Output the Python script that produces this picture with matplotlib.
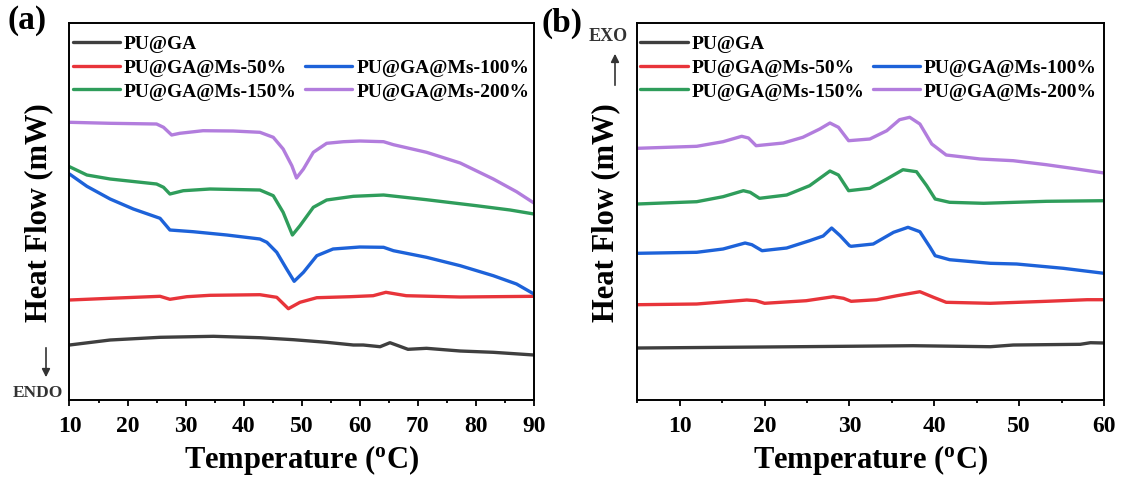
import numpy as np
import matplotlib
matplotlib.use('Agg')
import matplotlib.pyplot as plt
from matplotlib.lines import Line2D
from matplotlib.ticker import MultipleLocator

# DSC curves (heat flow in arbitrary, offset units)
# ----------------------------------------------------------------------------------------------------------------------

labels = ['PU@GA', 'PU@GA@Ms-50%', 'PU@GA@Ms-100%', 'PU@GA@Ms-150%', 'PU@GA@Ms-200%']
colors = ['#3f3f3f', '#e8343a', '#1d62d9', '#2f9d5b', '#b27ddd']

# (a) heating
a_t_ga = [10, 17, 25.6, 34.8, 42.8, 48.6, 54.3, 58.9, 60.6, 63.5, 65.2, 66.9, 68.3, 71.5, 77.3, 83, 90]
a_y_ga = [55, 60, 62.7, 63.7, 62.3, 60.3, 57.7, 55, 55, 53.3, 57.3, 53.7, 50.7, 51.7, 49, 47.7, 45]

a_t_50 = [10, 17, 25.6, 27.3, 30.2, 34.2, 42.8, 45.7, 47.7, 49.7, 52.6, 58.3, 62.3, 64.5, 68, 77.3, 90]
a_y_50 = [100, 101.7, 103.7, 100.7, 103.3, 104.7, 105.3, 102.7, 91.3, 97.7, 102.3, 103.3, 104.3, 107.7, 104.3, 103, 103.7]

a_t_100 = [10, 13, 17, 21, 25.6, 27.3, 31.3, 37.1, 42.8, 44, 45.7, 47.4, 48.7, 50.3, 52.6, 55.4, 60, 64.1, 65.8,
           71.5, 77.3, 83, 87, 90]
a_y_100 = [226, 213.7, 201, 191, 181.7, 170, 168.3, 165, 161, 157.7, 147.7, 131, 118.7, 127.7, 144.3, 151, 153, 152.7,
           149.3, 142.7, 134.3, 124.3, 116, 106]

a_t_150 = [10, 13, 17, 25, 26.2, 27.3, 29.6, 34.2, 42.8, 45.1, 46.8, 48.4, 49.7, 52, 54.3, 58.9, 64.1, 71.5, 80.1,
           85.9, 90]
a_y_150 = [233.3, 225, 221, 216, 212.7, 206, 209.3, 211, 210, 204.3, 187.7, 165, 174.3, 192.7, 200, 203.7, 205, 200.3,
           194.3, 190, 186]

a_t_200 = [10, 17, 25, 26.2, 27.6, 29, 33, 38.2, 42.8, 45.1, 46.8, 48.3, 49.1, 50.3, 52, 54.3, 57.2, 60, 64.1, 65.8,
           71.5, 77.3, 83, 87, 90]
a_y_200 = [277.7, 276.7, 276, 272.7, 265, 266.7, 269.3, 269, 267.7, 262.7, 251, 234.3, 222, 231, 247.7, 256.7, 258.3,
           259, 258.3, 255.3, 247.7, 237, 221, 208.3, 197]

# (b) cooling
b_t_ga = [5, 19.8, 37.5, 46.6, 49.3, 57.2, 58.4, 60]
b_y_ga = [52, 53, 54.3, 53.3, 55, 55.7, 57.3, 57]

b_t_50 = [5, 12, 17.9, 19, 20, 24.9, 28.1, 29.3, 30.2, 33.2, 35.6, 38.3, 39.9, 41.4, 46.6, 53.2, 58, 60]
b_y_50 = [95.3, 96, 100, 99.3, 96.7, 99.3, 103.3, 101.7, 98.7, 100.3, 104.3, 108.3, 102.7, 97.7, 96.7, 98.7, 100.3, 100.3]

b_t_100 = [5, 12, 15.1, 17.7, 18.5, 19.7, 22.6, 25.3, 26.9, 27.9, 28.9, 30, 30.2, 32.8, 35.2, 36.9, 38.3, 39.5, 40.1,
           41.8, 46.6, 49.7, 55.2, 60]
b_y_100 = [146.7, 147.7, 151, 157, 155.3, 149.3, 152, 159.3, 164, 172, 164.3, 154.3, 153.7, 156, 167.7, 172.7, 168.3,
           152.7, 144.3, 140.3, 136.7, 136, 131.7, 126.7]

b_t_150 = [5, 12, 15.1, 17.5, 18.3, 19.4, 22.6, 25.3, 27.7, 28.7, 29.9, 32.4, 34.4, 36.3, 37.9, 39.1, 40.1, 41.8, 45.8,
           53.2, 60]
b_y_150 = [196, 198.3, 203.3, 209.3, 207.7, 201.7, 205, 214.3, 229, 225, 209.3, 211.7, 221, 230.3, 228.3, 214.3, 201,
           197.7, 196.7, 198.7, 199.3]

b_t_200 = [5, 12, 15.1, 17.3, 18.1, 19, 22.2, 24.5, 26.5, 27.7, 28.7, 29.9, 32.4, 34.4, 35.9, 37.1, 38.3, 39.7, 41.4,
           45.4, 49.3, 53.2, 56.8, 60]
b_y_200 = [251.7, 253.7, 258.3, 263.7, 262, 254.3, 257, 262.7, 271, 277, 272.7, 259.3, 261, 269.3, 280.3, 282.7, 276,
           256, 245, 241, 239.3, 235.3, 231, 227]

a_curves = [(a_t_ga, a_y_ga), (a_t_50, a_y_50), (a_t_100, a_y_100), (a_t_150, a_y_150), (a_t_200, a_y_200)]
b_curves = [(b_t_ga, b_y_ga), (b_t_50, b_y_50), (b_t_100, b_y_100), (b_t_150, b_y_150), (b_t_200, b_y_200)]

# ----------------------------------------------------------------------------------------------------------------------

plt.rcParams['font.family'] = 'Liberation Serif'
plt.rcParams['font.weight'] = 'bold'
plt.rcParams['mathtext.fontset'] = 'custom'
plt.rcParams['mathtext.rm'] = 'Liberation Serif:bold'
plt.rcParams['mathtext.bf'] = 'Liberation Serif:bold'

fig = plt.figure(figsize=(11.26, 4.81), dpi=100)
ax_a = fig.add_axes([0.0617, 0.1663, 0.4125, 0.7838])
ax_b = fig.add_axes([0.5660, 0.1663, 0.4145, 0.7838])


def style_axis(ax, xlim, major):
    """ box frame, x ticks out on the bottom only, no y ticks """
    ax.set_xlim(xlim)
    ax.set_ylim(0, 377)
    ax.xaxis.set_major_locator(MultipleLocator(major))
    ax.xaxis.set_minor_locator(MultipleLocator(major / 2))
    ax.tick_params(axis='x', which='major', direction='out', length=4, width=1.3, pad=7, labelsize=17)
    ax.tick_params(axis='x', which='minor', direction='out', length=2.5, width=1.3)
    ax.set_yticks([])
    for s in ax.spines.values():
        s.set_linewidth(1.4)
    for lab in ax.get_xticklabels():
        lab.set_fontweight('bold')
    ax.set_xlabel(r'Temperature ($\mathregular{^{o}}$C)', fontsize=22, fontweight='bold', labelpad=4)
    ax.set_ylabel('Heat Flow (mW)', fontsize=22, fontweight='bold', labelpad=12)


def add_legend(ax, handles):
    blank = Line2D([], [], linestyle='none')
    order = [handles[0], handles[1], handles[3], blank, handles[2], handles[4]]
    names = [labels[0], labels[1], labels[3], '', labels[2], labels[4]]
    ax.legend(order, names, ncol=2, loc='upper left', bbox_to_anchor=(-0.006, 0.984), frameon=False,
              prop={'family': 'Liberation Serif', 'weight': 'bold', 'size': 14},
              handlelength=2.45, handletextpad=0.2, labelspacing=0.32, columnspacing=0.4,
              borderpad=0.2, borderaxespad=0.1)


for ax, curves, xlim, major in [(ax_a, a_curves, (10, 90), 10), (ax_b, b_curves, (5, 60), 10)]:
    hs = []
    for (t, y), c, lab in zip(curves, colors, labels):
        h, = ax.plot(t, y, color=c, lw=2.4, label=lab, solid_joinstyle='round', solid_capstyle='round')
        hs.append(h)
    style_axis(ax, xlim, major)
    add_legend(ax, hs)

ax_b.set_xticks([10, 20, 30, 40, 50, 60])

# panel letters and ENDO / EXO markers
fig.text(0.007, 0.958, '(a)', fontsize=24, fontweight='bold', va='center', ha='left')
fig.text(0.481, 0.952, '(b)', fontsize=24, fontweight='bold', va='center', ha='left')

fig.text(0.034, 1 - 393 / 481, 'ENDO', fontsize=12.5, fontweight='bold', color='#333333', va='center', ha='center')
fig.add_artist(matplotlib.patches.FancyArrowPatch((46 / 1126, 1 - 346 / 481), (46 / 1126, 1 - 381 / 481),
                                                  transform=fig.transFigure, arrowstyle='-|>', mutation_scale=12,
                                                  color='#333333', lw=1.2))

fig.text(0.540, 1 - 37 / 481, 'EXO', fontsize=13, fontweight='bold', color='#333333', va='center', ha='center')
fig.add_artist(matplotlib.patches.FancyArrowPatch((615 / 1126, 1 - 89 / 481), (615 / 1126, 1 - 52 / 481),
                                                  transform=fig.transFigure, arrowstyle='-|>', mutation_scale=12,
                                                  color='#333333', lw=1.2))

fig.savefig('out.png', dpi=100)
